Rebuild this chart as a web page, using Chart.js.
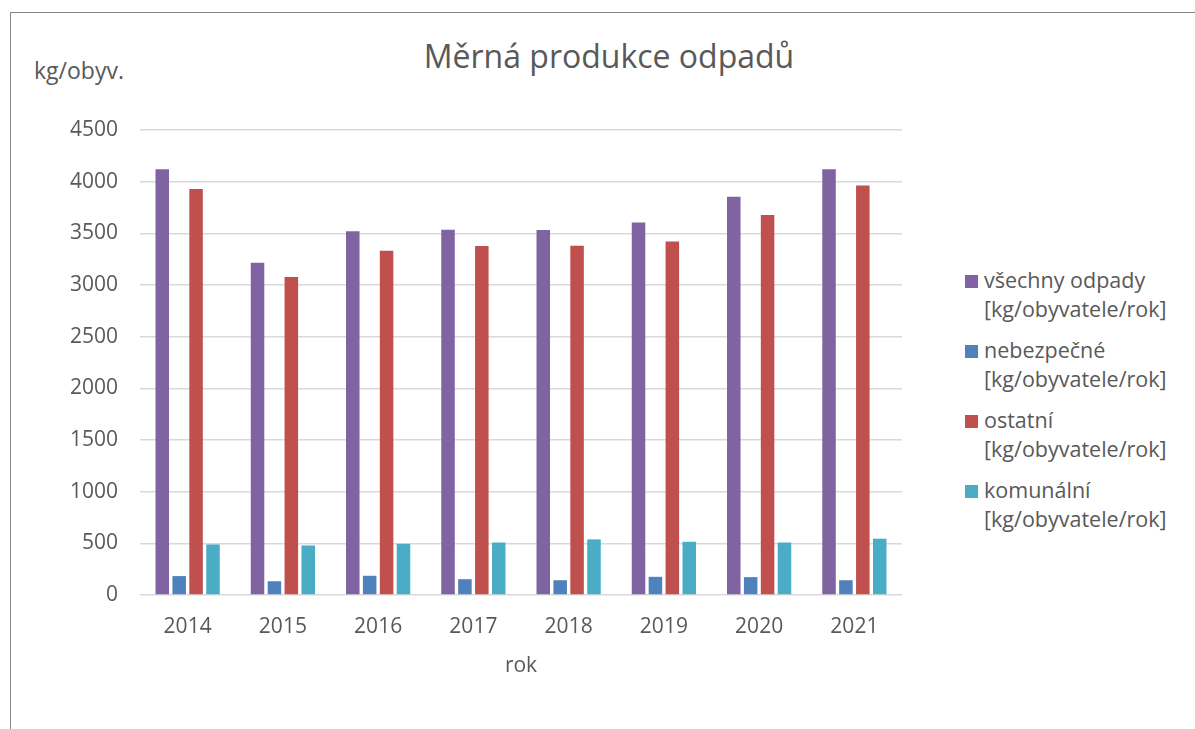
<!DOCTYPE html>
<html>
<head>
<meta charset="utf-8">
<script src="https://cdn.jsdelivr.net/npm/chart.js@4"></script>
<style>
  body { margin: 0; background: #fff; font-family: "Open Sans", sans-serif; color: #595959; }
  #wrap { position: relative; width: 1195px; height: 729px; overflow: hidden; }
  #frame { position: absolute; left: 10px; top: 12px; width: 1200px; height: 730px;
           border-left: 1.5px solid #868686; border-top: 1.5px solid #868686; }
  #title { position: absolute; left: 0; width: 1218px; top: 34px; text-align: center; font-size: 32px; }
  #unit { position: absolute; left: 34px; top: 54px; font-size: 23px; }
  #legend { position: absolute; left: 965px; top: 0; font-size: 21.5px; }
  .item { position: absolute; left: 0; width: 230px; line-height: 28.5px; }
  .item span.box { position: absolute; left: 0; top: 9px; width: 13px; height: 13px; }
  .item div { padding-left: 19px; white-space: nowrap; }
  canvas { position: absolute; left: 0; top: 0; }
</style>
</head>
<body>
<div id="wrap">
  <div id="frame"></div>
  <div id="title">Měrná produkce odpadů</div>
  <div id="unit">kg/obyv.</div>
  <div id="legend"></div>
  <canvas id="chart" width="1195" height="729"></canvas>
</div>
<script>
const years = ["2014", "2015", "2016", "2017", "2018", "2019", "2020", "2021"];
const allWaste = [4120, 3216, 3519, 3535, 3532, 3606, 3855, 4120];
const hazardous = [183, 133, 186, 153, 143, 176, 173, 143];
const otherWaste = [3929, 3077, 3332, 3377, 3380, 3422, 3677, 3964];
const municipal = [489, 479, 495, 508, 538, 515, 508, 545];

const seriesNames = ["všechny odpady", "nebezpečné", "ostatní", "komunální"];
const unitLabel = "[kg/obyvatele/rok]";
const colors = ["#8064A2", "#4F81BD", "#C0504D", "#4BACC6"];

// legend in html, two lines per item
const legend = document.getElementById("legend");
seriesNames.forEach((name, i) => {
    const item = document.createElement("div");
    item.className = "item";
    item.style.top = (266 + i * 70) + "px";
    item.innerHTML = `<span class="box" style="background:${colors[i]}"></span>
        <div>${name}</div><div>${unitLabel}</div>`;
    legend.appendChild(item);
});

const seriesData = [allWaste, hazardous, otherWaste, municipal];

new Chart(document.getElementById("chart"), {
    type: 'bar',
    data: {
        labels: years,
        datasets: seriesData.map((d, i) => ({
            label: seriesNames[i] + " " + unitLabel,
            data: d,
            backgroundColor: colors[i],
            categoryPercentage: 0.71,
            barPercentage: 0.8
        }))
    },
    options: {
        responsive: false,
        animation: false,
        layout: { padding: { top: 130, right: 293, bottom: 50, left: 0 } },
        plugins: {
            legend: { display: false },
            title: { display: false },
            tooltip: { enabled: false }
        },
        scales: {
            x: {
                grid: { display: false },
                border: { display: false },
                ticks: { color: '#595959', font: { family: 'Open Sans', size: 21 }, padding: 11, maxRotation: 0 },
                title: { display: true, text: 'rok', color: '#595959',
                         font: { family: 'Open Sans', size: 21 }, padding: { top: 0, bottom: 0 } },
                afterFit: (scale) => { scale.height = 84; }
            },
            y: {
                min: 0,
                max: 4500,
                ticks: { stepSize: 500, color: '#595959', font: { family: 'Open Sans', size: 21 }, padding: 22,
                         callback: (v) => String(v) },
                grid: { color: '#D9D9D9', lineWidth: 1.5, drawTicks: false },
                border: { display: false },
                afterFit: (scale) => { scale.width = 140; }
            }
        }
    }
});
</script>
</body>
</html>
